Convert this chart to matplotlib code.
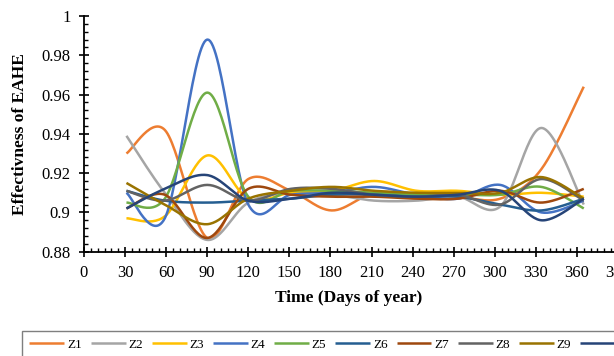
import numpy as np
import matplotlib
matplotlib.use("Agg")
import matplotlib.pyplot as plt
from matplotlib.ticker import MultipleLocator, FuncFormatter

# Excel-like serif look
plt.rcParams['font.family'] = ['Liberation Serif', 'DejaVu Serif']

# --- data: day of year (month ends) and effectiveness per zone ---
days = [31, 59, 90, 120, 151, 181, 212, 243, 273, 304, 334, 365]

z1 = [0.930, 0.942, 0.887, 0.917, 0.911, 0.901, 0.910, 0.909, 0.908, 0.907, 0.922, 0.964]
z2 = [0.939, 0.910, 0.886, 0.905, 0.910, 0.909, 0.906, 0.906, 0.908, 0.903, 0.943, 0.904]
z3 = [0.897, 0.898, 0.929, 0.907, 0.910, 0.911, 0.916, 0.911, 0.911, 0.909, 0.910, 0.908]
z4 = [0.910, 0.897, 0.988, 0.904, 0.909, 0.910, 0.913, 0.909, 0.907, 0.914, 0.900, 0.906]
z5 = [0.905, 0.907, 0.961, 0.908, 0.911, 0.911, 0.910, 0.909, 0.909, 0.909, 0.913, 0.902]
z6 = [0.911, 0.906, 0.905, 0.906, 0.907, 0.909, 0.909, 0.908, 0.908, 0.904, 0.901, 0.907]
z7 = [0.902, 0.909, 0.887, 0.912, 0.909, 0.908, 0.908, 0.907, 0.907, 0.911, 0.905, 0.912]
z8 = [0.911, 0.906, 0.914, 0.906, 0.912, 0.912, 0.909, 0.908, 0.909, 0.904, 0.917, 0.906]
z9 = [0.915, 0.904, 0.894, 0.907, 0.911, 0.913, 0.911, 0.910, 0.910, 0.910, 0.918, 0.907]
z10 = [0.902, 0.912, 0.919, 0.906, 0.907, 0.910, 0.909, 0.908, 0.909, 0.911, 0.896, 0.907]

labels = ['Z1', 'Z2', 'Z3', 'Z4', 'Z5', 'Z6', 'Z7', 'Z8', 'Z9', 'Z10']
series = [z1, z2, z3, z4, z5, z6, z7, z8, z9, z10]
colors = ['#ED7D31', '#A5A5A5', '#FFC000', '#4472C4', '#70AD47',
          '#255E91', '#9E480E', '#636363', '#997300', '#264478']


def excel_smooth(xs, ys, n=30):
    # Bezier smoothing like Excel's "smoothed line" option
    pts = np.column_stack([xs, ys]).astype(float)
    out = []
    for i in range(len(pts) - 1):
        p0 = pts[i - 1] if i > 0 else pts[i]
        p1 = pts[i]
        p2 = pts[i + 1]
        p3 = pts[i + 2] if i + 2 < len(pts) else pts[i + 1]
        c1 = p1 + (p2 - p0) / 6.0
        c2 = p2 - (p3 - p1) / 6.0
        t = np.linspace(0, 1, n)[:, None]
        seg = ((1 - t) ** 3) * p1 + 3 * ((1 - t) ** 2) * t * c1 \
            + 3 * (1 - t) * t ** 2 * c2 + t ** 3 * p2
        out.append(seg if i == 0 else seg[1:])
    curve = np.vstack(out)
    return curve[:, 0], curve[:, 1]


W, H = 614, 356
fig = plt.figure(figsize=(W / 100, H / 100), dpi=100)
# the axes run past the right edge of the picture, as in the reference
ax = fig.add_axes([84 / W, 1 - 251.7 / H, (618 - 84) / W, (251.7 - 16) / H])

handles = []
for ys, c, lab in zip(series, colors, labels):
    sx, sy = excel_smooth(days, ys)
    line, = ax.plot(sx, sy, color=c, lw=1.8, label=lab, solid_capstyle='butt')
    handles.append(line)

ax.set_xlim(0, 390)
ax.set_ylim(0.88, 1.0)
ax.xaxis.set_major_locator(MultipleLocator(30))
ax.xaxis.set_minor_locator(MultipleLocator(5))
ax.yaxis.set_major_locator(MultipleLocator(0.02))
ax.yaxis.set_minor_locator(MultipleLocator(0.004))
ax.yaxis.set_major_formatter(FuncFormatter(lambda v, p: f"{round(v, 3):g}"))

for side in ['top', 'right']:
    ax.spines[side].set_visible(False)
for side in ['left', 'bottom']:
    ax.spines[side].set_linewidth(1.3)
    ax.spines[side].set_color('black')

ax.tick_params(which='major', direction='inout', length=7.5, width=1.2,
               labelsize=12, pad=6)
ax.tick_params(which='minor', direction='in', length=3.2, width=1.0)

fig.text(20 / W, 1 - 134 / H, 'Effectivness of EAHE', rotation=90,
         ha='center', va='center', fontsize=12.5, fontweight='bold')
fig.text(349 / W, 1 - 298 / H, 'Time (Days of year)',
         ha='center', va='center', fontsize=12.5, fontweight='bold')

leg = fig.legend(handles=handles, loc='upper left',
                 bbox_to_anchor=(21.5 / W, 1 - 330.5 / H), ncol=10,
                 fontsize=9.5, handlelength=2.65, handletextpad=0.2,
                 columnspacing=0.68, borderpad=0.6, borderaxespad=0,
                 fancybox=False, frameon=True, framealpha=1)
leg.get_frame().set_edgecolor('#7F7F7F')
leg.get_frame().set_linewidth(1.0)

fig.savefig('out.png', dpi=100)
